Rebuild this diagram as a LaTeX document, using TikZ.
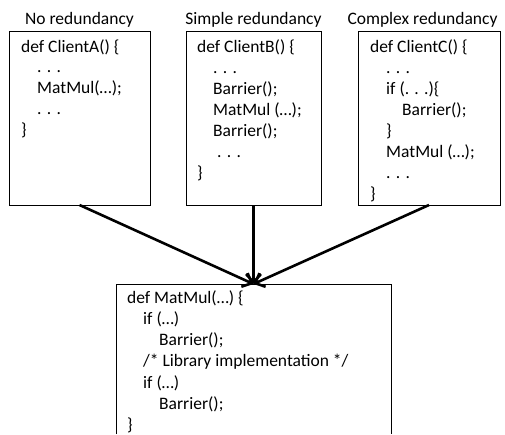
\documentclass[tikz,border=0pt]{standalone}
\usepackage{fontspec}
\setmainfont{Carlito}
\usetikzlibrary{arrows.meta}
\begin{document}
\begin{tikzpicture}[x=1pt,y=-1pt,
  box/.style={draw, line width=0.9pt, anchor=north west, inner sep=0pt, outer sep=0pt},
  code/.style={anchor=base west, inner sep=0pt, font=\fontsize{17.5}{21}\selectfont},
  lbl/.style={anchor=base, inner sep=0pt, font=\fontsize{17.5}{21}\selectfont},
  conn/.style={line width=2.6pt, -{Straight Barb[length=8pt,width=15pt]}}]
\useasboundingbox (0,0) rectangle (505,434);
% boxes
\node[box, minimum width=141pt, minimum height=174pt] (A) at (9,31) {};
\node[box, minimum width=135pt, minimum height=174pt] (B) at (186,31) {};
\node[box, minimum width=142pt, minimum height=174pt] (C) at (358,31) {};
\node[anchor=north west, inner sep=0pt, outer sep=0pt, minimum width=275pt, minimum height=150pt] (M) at (116,284) {};
\draw[line width=0.9pt] (M.south west) -- (M.north west) -- (M.north east) -- (M.south east);
% labels
\node[lbl] (la) at (79.5,24) {No redundancy};
\node[lbl] (lb) at (253.5,24) {Simple redundancy};
\node[lbl] (lc) at (422.5,24) {Complex redundancy};
% code texts
\foreach [count=\i] \ind/\t in {0/{def ClientA() \{}, 1/{. . .}, 1/{MatMul(…);}, 1/{. . .}, 0/{\}}}
  \node[code] (a\i) at ({21+16*\ind},{52+20.8*(\i-1)}) {\t};
\foreach [count=\i] \ind/\t in {0/{def ClientB() \{}, 1/{. . .}, 1/{Barrier();}, 1/{MatMul (…);}, 1/{Barrier();}, 1/{\ . . .}, 0/{\}}}
  \node[code] (b\i) at ({197+16*\ind},{52+21*(\i-1)}) {\t};
\foreach [count=\i] \ind/\t in {0/{def ClientC() \{}, 1/{. . .}, 1/{if (. . .)\{}, 2/{Barrier();}, 1/{\}}, 1/{MatMul (…);}, 1/{. . .}, 0/{\}}}
  \node[code] (c\i) at ({370+16*\ind},{52+21*(\i-1)}) {\t};
\foreach [count=\i] \ind/\t in {0/{def MatMul(…) \{}, 1/{if (…)}, 2/{Barrier();}, 1/{/* Library implementation */}, 1/{if (…)}, 2/{Barrier();}, 0/{\}}}
  \node[code] (m\i) at ({127+16*\ind},{303+21.3*(\i-1)}) {\t};
% connectors
\draw[conn] (A.south) -- (M.north);
\draw[conn] (B.south) -- (M.north);
\draw[conn] (C.south) -- (M.north);
\end{tikzpicture}
\end{document}
